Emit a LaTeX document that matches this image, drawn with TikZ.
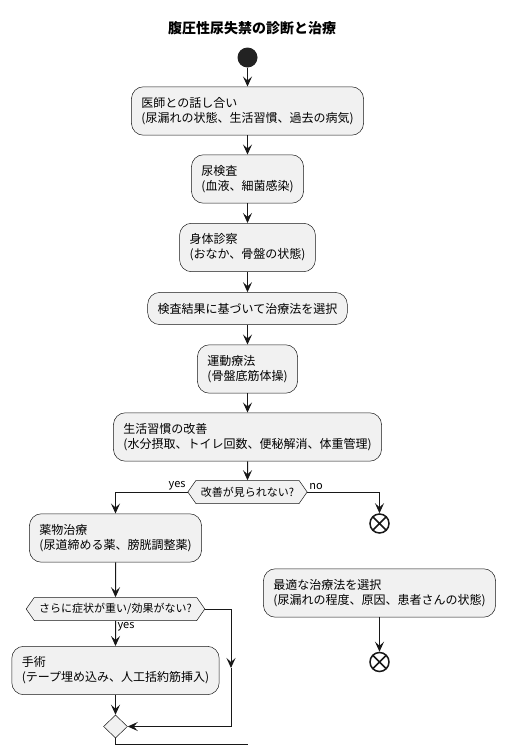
\documentclass[tikz,border=0pt]{standalone}
\usepackage{fontspec}
\newfontfamily\jpfont{Noto Sans CJK JP}
\usetikzlibrary{arrows.meta,shapes.symbols,shapes.geometric}

\definecolor{linec}{HTML}{181818}
\definecolor{boxc}{HTML}{F1F1F1}
\definecolor{dotc}{HTML}{222222}

\tikzset{
    act/.style={draw=linec, fill=boxc, line width=0.5pt, rounded corners=12pt,
        align=left, inner xsep=10pt, inner ysep=10.5pt,
        font=\jpfont\fontsize{12}{15}\selectfont},
    cond/.style={draw=linec, fill=boxc, line width=0.5pt, shape=signal,
        signal to=east and west, signal pointer angle=110,
        minimum height=23pt, inner xsep=5pt, inner ysep=0pt,
        font=\jpfont\fontsize{11}{13}\selectfont},
    merge/.style={draw=linec, fill=boxc, line width=0.5pt, diamond,
        minimum width=24pt, minimum height=23pt, inner sep=0pt},
    startdot/.style={circle, fill=dotc, minimum size=20pt, inner sep=0pt},
    enddot/.style={circle, draw=linec, fill=white, line width=1.5pt,
        minimum size=19pt, inner sep=0pt,
        path picture={
            \draw[linec, line width=1.5pt]
                (path picture bounding box.north west) -- (path picture bounding box.south east)
                (path picture bounding box.north east) -- (path picture bounding box.south west);
        }},
    flow/.style={draw=linec, line width=1pt, -{Stealth[length=10pt, width=9pt, inset=4pt]}},
    lbl/.style={font=\jpfont\fontsize{11}{13}\selectfont, inner sep=1.5pt},
}

\begin{document}
\begin{tikzpicture}[x=1pt, y=-1pt]

    \useasboundingbox (0,0) rectangle (505,755);

    % Title
    \node[font=\jpfont\bfseries\fontsize{14}{16}\selectfont] (title) at (252,28) {腹圧性尿失禁の診断と治療};

    % Main column
    \node[startdot] (start) at (247.5,57.5) {};
    \node[act] (talk) at (247.5,111) {医師との話し合い\\(尿漏れの状態、生活習慣、過去の病気)};
    \node[act] (urine) at (247.5,179) {尿検査\\(血液、細菌感染)};
    \node[act] (body) at (247.5,247.5) {身体診察\\(おなか、骨盤の状態)};
    \node[act] (choose) at (247.5,308.5) {検査結果に基づいて治療法を選択};
    \node[act] (exer) at (247.5,369) {運動療法\\(骨盤底筋体操)};
    \node[act] (life) at (247.5,437) {生活習慣の改善\\(水分摂取、トイレ回数、便秘解消、体重管理)};
    \node[cond] (better) at (247.5,492) {改善が見られない?};

    \draw[flow] (start) -- (talk);
    \draw[flow] (talk) -- (urine);
    \draw[flow] (urine) -- (body);
    \draw[flow] (body) -- (choose);
    \draw[flow] (choose) -- (exer);
    \draw[flow] (exer) -- (life);
    \draw[flow] (life) -- (better);

    % yes branch
    \node[act] (drug) at (115.5,538) {薬物治療\\(尿道締める薬、膀胱調整薬)};
    \node[cond] (worse) at (115.5,609) {さらに症状が重い/効果がない?};
    \node[act] (surg) at (115.5,670.5) {手術\\(テープ埋め込み、人工括約筋挿入)};
    \node[merge] (join) at (115.5,726.5) {};
    \coordinate (side) at (231,668);
    \coordinate (out) at (248,744);

    \draw[flow] (better.west) node[lbl, above left] {yes} -| (drug);
    \draw[flow] (drug) -- (worse);
    \draw[flow] (worse) -- node[lbl, near start, right] {yes} (surg);
    \draw[flow] (surg) -- (join);
    \draw[flow] (worse.east) -| (side);
    \draw[flow] (side) |- (join.east);
    \draw[draw=linec, line width=1pt] (join.south) |- (out);

    % no branch
    \node[enddot] (stopA) at (379.5,523.5) {};
    \node[act] (best) at (379.5,593) {最適な治療法を選択\\(尿漏れの程度、原因、患者さんの状態)};
    \node[enddot] (stopB) at (379.5,662) {};

    \draw[flow] (better.east) node[lbl, above right] {no} -| (stopA);
    \draw[flow] (best) -- (stopB);

\end{tikzpicture}
\end{document}
